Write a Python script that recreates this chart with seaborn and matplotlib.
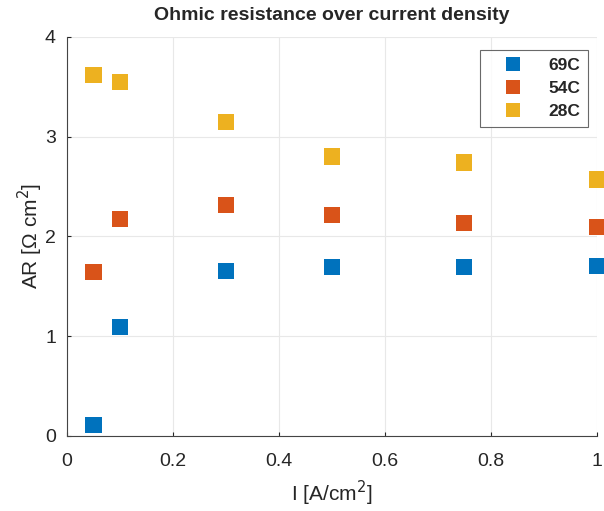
import matplotlib
matplotlib.use("Agg")
import matplotlib.pyplot as plt
import seaborn as sns
import pandas as pd

current = [0.05, 0.1, 0.3, 0.5, 0.75, 1.0]
r_69C = [0.11, 1.09, 1.65, 1.69, 1.69, 1.70]
r_54C = [1.64, 2.17, 2.31, 2.21, 2.13, 2.09]
r_28C = [3.62, 3.55, 3.15, 2.80, 2.74, 2.57]
labels = ["69C", "54C", "28C"]
colors = ["#0072BD", "#D95319", "#EDB120"]

df = pd.DataFrame({
    "I": current * 3,
    "AR": r_69C + r_54C + r_28C,
    "T": [labels[0]] * 6 + [labels[1]] * 6 + [labels[2]] * 6,
})

sns.set_style("white")
plt.rcParams["font.family"] = ["Liberation Sans", "DejaVu Sans"]

fig = plt.figure(figsize=(6.04, 5.11), dpi=100)
ax = fig.add_axes([0.111, 0.147, 0.877, 0.781])
sns.scatterplot(data=df, x="I", y="AR", hue="T", hue_order=labels,
                palette=colors, marker="s", s=135, linewidth=0, ax=ax,
                clip_on=False, zorder=3)

ax.set_xlim(0, 1)
ax.set_ylim(0, 4)
ax.set_xticks([0, 0.2, 0.4, 0.6, 0.8, 1])
ax.set_xticklabels(["0", "0.2", "0.4", "0.6", "0.8", "1"])
ax.set_yticks([0, 1, 2, 3, 4])
ax.grid(True, color="#e8e8e8", linewidth=0.8)
ax.set_axisbelow(True)
for s in ["top", "right"]:
    ax.spines[s].set_visible(False)
for s in ["left", "bottom"]:
    ax.spines[s].set_color("#444444")
    ax.spines[s].set_linewidth(0.8)
ax.tick_params(axis="both", labelsize=14, colors="#262626", length=3,
               direction="in", left=True, bottom=True)
ax.tick_params(axis="x", pad=12)
ax.tick_params(axis="y", pad=8)
ax.set_xlabel("I [A/cm$^2$]", fontsize=15, color="#262626", labelpad=7)
ax.set_ylabel("AR [\u03a9 cm$^2$]", fontsize=15, color="#262626", labelpad=0)
ax.set_title("Ohmic resistance over current density", fontsize=14,
             fontweight="bold", color="#262626", pad=12)

leg = ax.legend(loc="upper right", bbox_to_anchor=(0.99, 0.975), frameon=True,
                fancybox=False, edgecolor="#444444", fontsize=12.5,
                markerscale=0.85, handletextpad=0.6, handlelength=2.9,
                borderpad=0.45, labelspacing=0.45, borderaxespad=0.2,
                title=None)
leg.get_frame().set_linewidth(0.8)
for t in leg.get_texts():
    t.set_fontweight("bold")
    t.set_color("#262626")

fig.savefig("out.png", dpi=100)
